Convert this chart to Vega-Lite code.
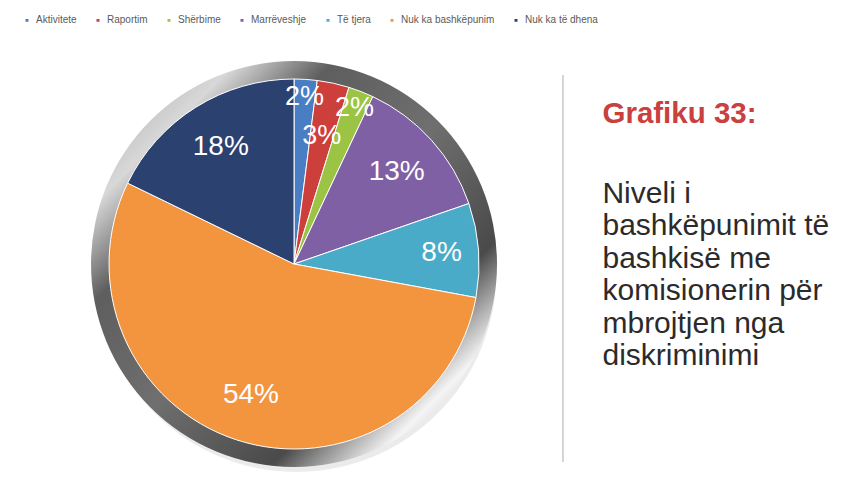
{
  "$schema": "https://vega.github.io/schema/vega-lite/v6.json",
  "width": 842,
  "height": 490,
  "autosize": {"type": "fit", "contains": "padding"},
  "padding": 0,
  "background": "white",
  "config": {"view": {"stroke": null}, "font": "Liberation Sans"},
  "datasets": {
    "slices": [
      {"cat": "Aktivitete", "value": 0.020, "idx": 1},
      {"cat": "Raportim", "value": 0.028, "idx": 2},
      {"cat": "Shërbime", "value": 0.022, "idx": 3},
      {"cat": "Marrëveshje", "value": 0.127, "idx": 4},
      {"cat": "Të tjera", "value": 0.082, "idx": 5},
      {"cat": "Nuk ka bashkëpunim", "value": 0.543, "idx": 6},
      {"cat": "Nuk ka të dhena", "value": 0.178, "idx": 7}
    ]
  },
  "layer": [
    {
      "data": {"values": [{"part": "shadow"}]},
      "mark": {"type": "arc", "theta": 0, "theta2": 6.2832, "radius": 200, "fill": "#d8d8d8", "opacity": 0.5},
      "encoding": {
        "x": {"datum": 35.2, "type": "quantitative", "scale": {"domain": [0, 100]}, "axis": null},
        "y": {"datum": 55.5, "type": "quantitative", "scale": {"domain": [0, 100], "reverse": true}, "axis": null}
      }
    },
    {
      "data": {"values": [{"part": "ring"}]},
      "mark": {
        "type": "arc", "theta": 0, "theta2": 6.2832, "radius": 203, "radius2": 183,
        "fill": {
          "gradient": "linear", "x1": 0, "y1": 0, "x2": 1, "y2": 1,
          "stops": [
            {"offset": 0, "color": "#9a9a9a"},
            {"offset": 0.18, "color": "#d8d8d8"},
            {"offset": 0.3, "color": "#5e5e5e"},
            {"offset": 0.5, "color": "#6f6f6f"},
            {"offset": 0.72, "color": "#4a4a4a"},
            {"offset": 0.84, "color": "#f4f4f4"},
            {"offset": 1, "color": "#8a8a8a"}
          ]
        }
      },
      "encoding": {
        "x": {"datum": 34.92, "type": "quantitative", "scale": {"domain": [0, 100]}, "axis": null},
        "y": {"datum": 53.88, "type": "quantitative", "scale": {"domain": [0, 100], "reverse": true}, "axis": null}
      }
    },
    {
      "data": {"name": "slices"},
      "mark": {"type": "arc", "radius": 185, "stroke": "white", "strokeWidth": 1},
      "encoding": {
        "x": {"datum": 34.92, "type": "quantitative", "scale": {"domain": [0, 100]}, "axis": null},
        "y": {"datum": 53.88, "type": "quantitative", "scale": {"domain": [0, 100], "reverse": true}, "axis": null},
        "theta": {"field": "value", "type": "quantitative", "stack": true},
        "order": {"field": "idx", "type": "quantitative"},
        "color": {
          "field": "cat", "type": "nominal",
          "scale": {
            "domain": ["Aktivitete", "Raportim", "Shërbime", "Marrëveshje", "Të tjera", "Nuk ka bashkëpunim", "Nuk ka të dhena"],
            "range": ["#4a7ec4", "#cd3f3b", "#9bc444", "#8060a4", "#4aabc9", "#f3943f", "#2b4271"]
          },
          "legend": {
            "orient": "none", "legendX": 22, "legendY": 15, "direction": "horizontal",
            "title": null, "symbolType": "square", "symbolSize": 20,
            "labelFontSize": 10, "labelColor": "#5a5a5a", "labelOffset": 4,
            "columnPadding": 15, "padding": 0, "labelFont": "Liberation Sans"
          }
        }
      }
    },
    {
      "data": {"name": "slices"},
      "mark": {"type": "text", "radius": 167, "fill": "white", "fontSize": 27, "font": "Liberation Sans"},
      "encoding": {
        "x": {"datum": 34.92, "type": "quantitative", "scale": {"domain": [0, 100]}, "axis": null},
        "y": {"datum": 53.88, "type": "quantitative", "scale": {"domain": [0, 100], "reverse": true}, "axis": null},
        "theta": {"field": "value", "type": "quantitative", "stack": true},
        "order": {"field": "idx", "type": "quantitative"},
        "detail": {"field": "cat", "type": "nominal"},
        "text": {"condition": {"test": "datum.cat == 'Aktivitete' || datum.cat == 'Shërbime'", "field": "value", "type": "quantitative", "format": ".0%"}, "value": ""}
      }
    },
    {
      "data": {"name": "slices"},
      "mark": {"type": "text", "radius": 131, "fill": "white", "fontSize": 27, "font": "Liberation Sans"},
      "encoding": {
        "x": {"datum": 34.92, "type": "quantitative", "scale": {"domain": [0, 100]}, "axis": null},
        "y": {"datum": 53.88, "type": "quantitative", "scale": {"domain": [0, 100], "reverse": true}, "axis": null},
        "theta": {"field": "value", "type": "quantitative", "stack": true},
        "order": {"field": "idx", "type": "quantitative"},
        "detail": {"field": "cat", "type": "nominal"},
        "text": {"condition": {"test": "datum.cat == 'Raportim'", "field": "value", "type": "quantitative", "format": ".0%"}, "value": ""}
      }
    },
    {
      "data": {"name": "slices"},
      "mark": {"type": "text", "radius": 138, "fill": "white", "fontSize": 28, "font": "Liberation Sans"},
      "encoding": {
        "x": {"datum": 34.92, "type": "quantitative", "scale": {"domain": [0, 100]}, "axis": null},
        "y": {"datum": 53.88, "type": "quantitative", "scale": {"domain": [0, 100], "reverse": true}, "axis": null},
        "theta": {"field": "value", "type": "quantitative", "stack": true},
        "order": {"field": "idx", "type": "quantitative"},
        "detail": {"field": "cat", "type": "nominal"},
        "text": {"condition": {"test": "datum.value > 0.1", "field": "value", "type": "quantitative", "format": ".0%"}, "value": ""}
      }
    },
    {
      "data": {"name": "slices"},
      "mark": {"type": "text", "radius": 148, "fill": "white", "fontSize": 28, "font": "Liberation Sans"},
      "encoding": {
        "x": {"datum": 34.92, "type": "quantitative", "scale": {"domain": [0, 100]}, "axis": null},
        "y": {"datum": 53.88, "type": "quantitative", "scale": {"domain": [0, 100], "reverse": true}, "axis": null},
        "theta": {"field": "value", "type": "quantitative", "stack": true},
        "order": {"field": "idx", "type": "quantitative"},
        "detail": {"field": "cat", "type": "nominal"},
        "text": {"condition": {"test": "datum.cat == 'Të tjera'", "field": "value", "type": "quantitative", "format": ".0%"}, "value": ""}
      }
    },
    {
      "data": {"values": [{"part": "separator"}]},
      "mark": {"type": "rule", "stroke": "#c8c8c8", "strokeWidth": 1.5},
      "encoding": {
        "x": {"datum": 66.86, "type": "quantitative", "scale": {"domain": [0, 100]}, "axis": null},
        "y": {"datum": 15.3, "type": "quantitative", "scale": {"domain": [0, 100], "reverse": true}, "axis": null},
        "y2": {"datum": 94.3}
      }
    },
    {
      "data": {"values": [{"part": "title"}]},
      "mark": {"type": "text", "text": "Grafiku 33:", "align": "left", "baseline": "alphabetic", "fontSize": 29.5, "fontWeight": "bold", "fill": "#c9403e", "font": "Liberation Sans"},
      "encoding": {
        "x": {"datum": 71.55, "type": "quantitative", "scale": {"domain": [0, 100]}, "axis": null},
        "y": {"datum": 25.1, "type": "quantitative", "scale": {"domain": [0, 100], "reverse": true}, "axis": null}
      }
    },
    {
      "data": {"values": [{"part": "subtitle"}]},
      "mark": {
        "type": "text",
        "text": ["Niveli i", "bashkëpunimit të", "bashkisë me", "komisionerin për", "mbrojtjen nga", "diskriminimi"],
        "align": "left", "baseline": "alphabetic", "fontSize": 30, "lineHeight": 32.4, "fill": "#2b2b2b", "font": "Liberation Sans"
      },
      "encoding": {
        "x": {"datum": 71.55, "type": "quantitative", "scale": {"domain": [0, 100]}, "axis": null},
        "y": {"datum": 41.43, "type": "quantitative", "scale": {"domain": [0, 100], "reverse": true}, "axis": null}
      }
    }
  ]
}
